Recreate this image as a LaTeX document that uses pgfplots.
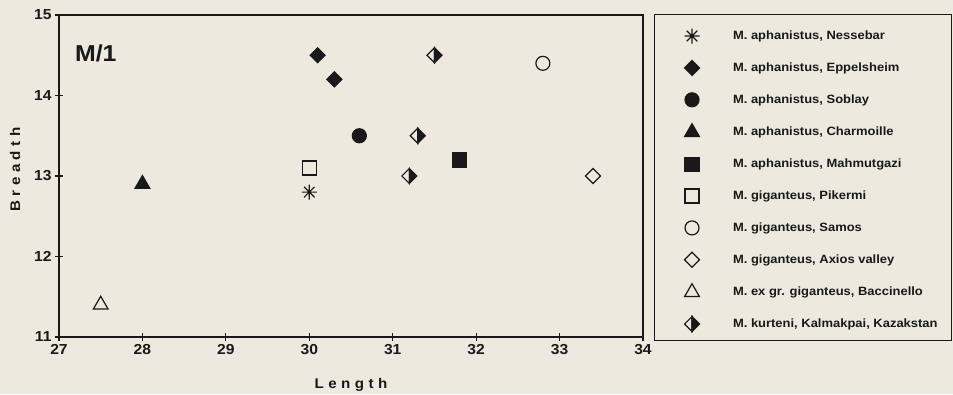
\documentclass[border=0pt]{standalone}
\usepackage{fontspec}
\setmainfont{Liberation Sans}[FakeStretch=1.08]
\usepackage{pgfplots}
\pgfplotsset{compat=1.18}
\definecolor{bg}{RGB}{238,233,222}
\definecolor{ink}{RGB}{25,25,25}
\pgfdeclareplotmark{sqdiamond}{%
  \pgfpathmoveto{\pgfqpoint{0pt}{\pgfplotmarksize}}%
  \pgfpathlineto{\pgfqpoint{\pgfplotmarksize}{0pt}}%
  \pgfpathlineto{\pgfqpoint{0pt}{-\pgfplotmarksize}}%
  \pgfpathlineto{\pgfqpoint{-\pgfplotmarksize}{0pt}}%
  \pgfpathclose\pgfusepathqfillstroke}
\pgfdeclareplotmark{halfdiamond}{%
  \pgfpathmoveto{\pgfqpoint{0pt}{\pgfplotmarksize}}%
  \pgfpathlineto{\pgfqpoint{\pgfplotmarksize}{0pt}}%
  \pgfpathlineto{\pgfqpoint{0pt}{-\pgfplotmarksize}}%
  \pgfpathclose\pgfusepathqfillstroke
  \pgfpathmoveto{\pgfqpoint{0pt}{\pgfplotmarksize}}%
  \pgfpathlineto{\pgfqpoint{-\pgfplotmarksize}{0pt}}%
  \pgfpathlineto{\pgfqpoint{0pt}{-\pgfplotmarksize}}%
  \pgfpathclose\pgfusepathqstroke}
\pgfdeclareplotmark{star8}{%
  \pgfpathmoveto{\pgfqpoint{0pt}{\pgfplotmarksize}}\pgfpathlineto{\pgfqpoint{0pt}{-\pgfplotmarksize}}%
  \pgfpathmoveto{\pgfqpoint{\pgfplotmarksize}{0pt}}\pgfpathlineto{\pgfqpoint{-\pgfplotmarksize}{0pt}}%
  \pgfpathmoveto{\pgfqpoint{0.7\pgfplotmarksize}{0.7\pgfplotmarksize}}\pgfpathlineto{\pgfqpoint{-0.7\pgfplotmarksize}{-0.7\pgfplotmarksize}}%
  \pgfpathmoveto{\pgfqpoint{-0.7\pgfplotmarksize}{0.7\pgfplotmarksize}}\pgfpathlineto{\pgfqpoint{0.7\pgfplotmarksize}{-0.7\pgfplotmarksize}}%
  \pgfusepathqstroke}
\begin{document}
\begin{tikzpicture}
\fill[bg] (-59pt,-57pt) rectangle (894pt,337pt);
\begin{axis}[
  at={(0pt,0pt)}, anchor=south west,
  scale only axis, width=584pt, height=322pt,
  xmin=27, xmax=34, ymin=11, ymax=15,
  xtick={27,28,...,34}, ytick={11,12,...,15},
  axis line style={line width=1.5pt, draw=ink},
  tick align=center, major tick length=8pt,
  tick style={line width=1.2pt, draw=ink},
  tick pos=left,
  ticklabel style={font=\bfseries\fontsize{14.5}{14.5}\selectfont, text=ink},
  /pgf/number format/assume math mode=true,
  xlabel={Length}, ylabel={Breadth},
  label style={font=\bfseries\fontsize{14}{14}\selectfont\addfontfeatures{LetterSpace=32}, text=ink},
  xlabel style={at={(axis description cs:0.5,-0.149)}, anchor=center},
  ylabel style={at={(axis description cs:-0.0753,0.52)}, anchor=center},
  clip=false,
  every axis plot/.append style={draw=ink, line width=1.2pt},
  legend style={at={(1.0497,0.9596)}, anchor=north west, draw=none, fill=none,
    inner sep=0pt, outer sep=0pt, row sep=15.9pt, column sep=0pt,
    font=\bfseries\fontsize{12}{12}\selectfont, text=ink, nodes={inner sep=0pt}},
  legend cell align=left,
  legend image code/.code={\path[draw=none,fill=none] (-20pt,-8pt) rectangle (41pt,8pt); \draw[#1] plot coordinates {(0pt,0pt)};},
]
\addplot[only marks, mark=star8, mark size=7.5pt] coordinates {(30,12.8)};
\addlegendentry{M. aphanistus, Nessebar}
\addplot[only marks, mark=sqdiamond, mark size=7.5pt, mark options={fill=ink}] coordinates {(30.1,14.5) (30.3,14.2)};
\addlegendentry{M. aphanistus, Eppelsheim}
\addplot[only marks, mark=*, mark size=7pt, mark options={fill=ink}] coordinates {(30.6,13.5)};
\addlegendentry{M. aphanistus,  Soblay}
\addplot[only marks, mark=triangle*, mark size=8.5pt, mark options={fill=ink}] coordinates {(28,12.9)};
\addlegendentry{M. aphanistus, Charmoille}
\addplot[only marks, mark=square*, mark size=7pt, mark options={fill=ink}] coordinates {(31.8,13.2)};
\addlegendentry{M. aphanistus, Mahmutgazi}
\addplot[only marks, mark=square*, mark size=7pt, mark options={fill=bg}] coordinates {(30,13.1)};
\addlegendentry{M. giganteus, Pikermi}
\addplot[only marks, mark=*, mark size=7pt, mark options={fill=bg}] coordinates {(32.8,14.4)};
\addlegendentry{M. giganteus, Samos}
\addplot[only marks, mark=sqdiamond, mark size=7.5pt, mark options={fill=bg}] coordinates {(33.4,13.0)};
\addlegendentry{M. giganteus, Axios valley}
\addplot[only marks, mark=triangle*, mark size=8.5pt, mark options={fill=bg}] coordinates {(27.5,11.4)};
\addlegendentry{M. ex gr. giganteus, Baccinello}
\addplot[only marks, mark=halfdiamond, mark size=7.5pt, mark options={fill=ink}] coordinates {(31.5,14.5) (31.3,13.5) (31.2,13.0)};
\addlegendentry{M. kurteni, Kalmakpai, Kazakstan}
\node[font=\bfseries\fontsize{23}{23}\selectfont, text=ink] at (rel axis cs:0.063,0.882) {M/1};
\end{axis}
\draw[line width=1pt, ink] (595pt,-3pt) rectangle (892pt,322pt);
\pgfresetboundingbox
\path[use as bounding box] (-59pt,-57pt) rectangle (894pt,337pt);
\end{tikzpicture}
\end{document}
